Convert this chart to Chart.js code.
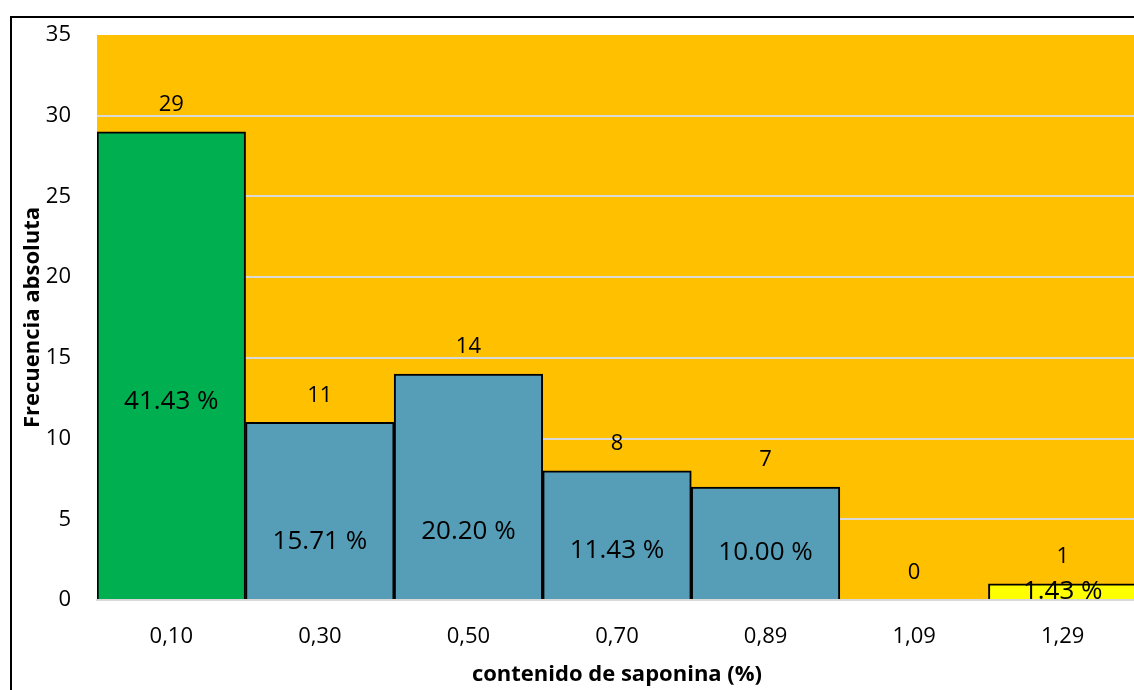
<!DOCTYPE html>
<html>
<head>
<meta charset="utf-8">
<script src="https://cdn.jsdelivr.net/npm/chart.js@4.4.1/dist/chart.umd.min.js"></script>
<style>
  html, body { margin: 0; padding: 0; overflow: hidden; background: #ffffff; }
  #wrap { position: relative; width: 1137px; height: 690px; }
  #frame { position: absolute; left: 10px; top: 16px; width: 1200px; height: 800px;
           border: 2px solid #000; box-sizing: border-box; }
  #chart { position: absolute; left: 0; top: 0; }
</style>
</head>
<body>
<div id="wrap">
  <div id="frame"></div>
  <canvas id="chart" width="1137" height="690"></canvas>
</div>
<script>
// Class marks of saponin content and their absolute frequencies
const categories = ['0,10', '0,30', '0,50', '0,70', '0,89', '1,09', '1,29'];
const frequencies = [29, 11, 14, 8, 7, 0, 1];
const percentLabels = ['41.43 %', '15.71 %', '20.20 %', '11.43 %', '10.00 %', '', '1.43 %'];
const yTicks = [0, 5, 10, 15, 20, 25, 30, 35];

const GREEN = '#00B050';
const BLUE = '#569EB7';
const YELLOW = '#FFFF00';
const barColors = [GREEN, BLUE, BLUE, BLUE, BLUE, BLUE, YELLOW];

const FONT = "'Open Sans', 'Noto Sans', sans-serif";

// Orange plot background
const plotBackground = {
  id: 'plotBackground',
  beforeDraw(chart) {
    const { ctx, chartArea: a } = chart;
    ctx.save();
    ctx.fillStyle = '#FFC000';
    ctx.fillRect(a.left, a.top, a.right - a.left, a.bottom - a.top);
    ctx.restore();
  }
};

// Frequency above each bar, share of the total inside it
const barLabels = {
  id: 'barLabels',
  afterDatasetsDraw(chart, args, opts) {
    const { ctx, chartArea: a } = chart;
    const meta = chart.getDatasetMeta(0);
    const yScale = chart.scales.y;
    ctx.save();
    ctx.fillStyle = '#000';
    ctx.textAlign = 'center';
    ctx.textBaseline = 'middle';
    meta.data.forEach((bar, i) => {
      ctx.font = '22px ' + FONT;
      ctx.fillText(String(frequencies[i]), bar.x, bar.y - opts.valueGap);
    });
    ctx.beginPath();
    ctx.rect(a.left, a.top, a.right - a.left, a.bottom - a.top);
    ctx.clip();
    ctx.font = '26px ' + FONT;
    meta.data.forEach((bar, i) => {
      if (!percentLabels[i]) return;
      ctx.fillText(percentLabels[i], bar.x, yScale.getPixelForValue(opts.percentAt[i]));
    });
    ctx.restore();
  }
};

new Chart(document.getElementById('chart'), {
  type: 'bar',
  data: {
    labels: categories,
    datasets: [{
      data: frequencies,
      backgroundColor: barColors,
      borderColor: frequencies.map(v => v > 0 ? '#000' : 'rgba(0,0,0,0)'),
      borderWidth: 2,
      categoryPercentage: 1.0,
      barPercentage: 1.0
    }]
  },
  options: {
    responsive: false,
    animation: false,
    devicePixelRatio: 1,
    layout: { padding: { top: 35, left: 0, right: 0, bottom: 0 } },
    plugins: {
      legend: { display: false },
      tooltip: { enabled: false },
      barLabels: {
        valueGap: 27,
        percentAt: [12.27, 3.62, 4.21, 3.04, 2.91, 0, 0.5]
      }
    },
    scales: {
      x: {
        grid: { display: false, drawTicks: false },
        border: { display: true, color: '#D9D9D9', width: 2 },
        ticks: { color: '#000', font: { family: FONT, size: 22 }, padding: 24, maxRotation: 0 },
        title: {
          display: true,
          text: 'contenido de saponina (%)',
          color: '#000',
          font: { family: FONT, size: 22, weight: 'bold' },
          padding: { top: 0, bottom: 2 }
        },
        afterFit(scale) { scale.height = 90; }
      },
      y: {
        min: 0,
        max: 35,
        afterBuildTicks(scale) { scale.ticks = yTicks.map(v => ({ value: v })); },
        grid: {
          drawTicks: false,
          color: ctx => (ctx.tick && ctx.tick.value === 35) ? 'rgba(0,0,0,0)' : '#D9D9D9',
          lineWidth: 2
        },
        border: { display: false },
        ticks: { color: '#000', font: { family: FONT, size: 22 }, padding: 26 },
        title: {
          display: true,
          text: 'Frecuencia absoluta',
          color: '#000',
          font: { family: FONT, size: 22, weight: 'bold' },
          padding: { top: 20, bottom: 0 }
        },
        afterFit(scale) {
          scale.width = 97;
          scale.paddingTop = 0;
          scale.paddingBottom = 0;
        }
      }
    }
  },
  plugins: [plotBackground, barLabels]
});
</script>
</body>
</html>
